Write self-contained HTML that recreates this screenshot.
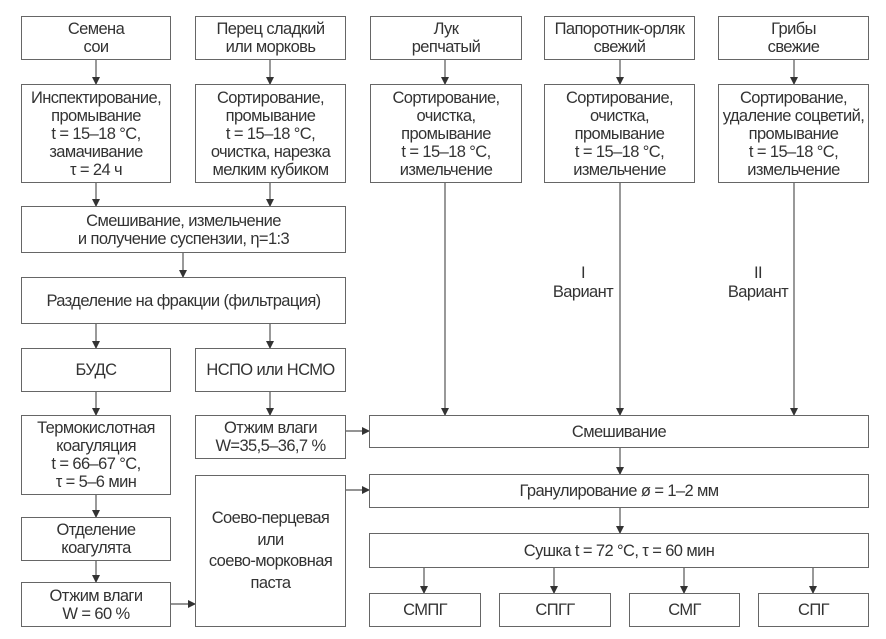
<!DOCTYPE html>
<html><head><meta charset="utf-8"><style>
html,body{margin:0;padding:0;background:#fff;}
body{width:886px;height:639px;position:relative;overflow:hidden;font-family:"Liberation Sans",Arial,sans-serif;color:#333;}
.b{position:absolute;box-sizing:border-box;border:1.3px solid #666;display:flex;align-items:center;justify-content:center;text-align:center;font-size:16.5px;line-height:18px;letter-spacing:-0.6px;background:#fff;white-space:nowrap;}
.t{position:absolute;text-align:center;font-size:16.5px;line-height:19px;letter-spacing:-0.6px;transform:translateX(-50%);}
svg{position:absolute;left:0;top:0;}
</style></head><body>
<svg width="886" height="639">
<defs><marker id="a" markerWidth="8" markerHeight="8" refX="7" refY="4" orient="auto" markerUnits="userSpaceOnUse"><path d="M0,0 L8,4 L0,8 z" fill="#333"/></marker></defs>
<g stroke="#555" stroke-width="1.2" fill="none" marker-end="url(#a)">
<line x1="96" y1="59" x2="96" y2="84"/>
<line x1="270" y1="59" x2="270" y2="84"/>
<line x1="445" y1="59" x2="445" y2="84"/>
<line x1="620" y1="59" x2="620" y2="84"/>
<line x1="794" y1="59" x2="794" y2="84"/>
<line x1="96" y1="182" x2="96" y2="206"/>
<line x1="270" y1="182" x2="270" y2="206"/>
<line x1="183" y1="252" x2="183" y2="277"/>
<line x1="96" y1="323" x2="96" y2="348"/>
<line x1="270" y1="323" x2="270" y2="348"/>
<line x1="96" y1="391" x2="96" y2="415"/>
<line x1="270" y1="391" x2="270" y2="415"/>
<line x1="96" y1="494" x2="96" y2="517"/>
<line x1="96" y1="560" x2="96" y2="582"/>
<line x1="171" y1="604" x2="195" y2="604"/>
<line x1="345" y1="431" x2="369" y2="431"/>
<line x1="345" y1="490" x2="369" y2="490"/>
<line x1="445" y1="182" x2="445" y2="415"/>
<line x1="620" y1="182" x2="620" y2="415"/>
<line x1="794" y1="182" x2="794" y2="415"/>
<line x1="620" y1="447" x2="620" y2="474"/>
<line x1="620" y1="507" x2="620" y2="533"/>
<line x1="424" y1="567" x2="424" y2="593"/>
<line x1="554" y1="567" x2="554" y2="593"/>
<line x1="684" y1="567" x2="684" y2="593"/>
<line x1="813" y1="567" x2="813" y2="593"/>
</g></svg>

<div class="b" style="left:21px;top:16px;width:150px;height:44px;">Семена<br>сои</div>
<div class="b" style="left:195px;top:16px;width:151px;height:44px;">Перец сладкий<br>или морковь</div>
<div class="b" style="left:370px;top:16px;width:152px;height:44px;">Лук<br>репчатый</div>
<div class="b" style="left:544px;top:16px;width:151px;height:44px;">Папоротник-орляк<br>свежий</div>
<div class="b" style="left:718px;top:16px;width:151px;height:44px;">Грибы<br>свежие</div>

<div class="b" style="left:21px;top:84px;width:150px;height:99px;">Инспектирование,<br>промывание<br>t = 15–18 °C,<br>замачивание<br>τ = 24 ч</div>
<div class="b" style="left:195px;top:84px;width:151px;height:99px;">Сортирование,<br>промывание<br>t = 15–18 °C,<br>очистка, нарезка<br>мелким кубиком</div>
<div class="b" style="left:370px;top:84px;width:152px;height:99px;">Сортирование,<br>очистка,<br>промывание<br>t = 15–18 °C,<br>измельчение</div>
<div class="b" style="left:544px;top:84px;width:151px;height:99px;">Сортирование,<br>очистка,<br>промывание<br>t = 15–18 °C,<br>измельчение</div>
<div class="b" style="left:718px;top:84px;width:151px;height:99px;">Сортирование,<br>удаление соцветий,<br>промывание<br>t = 15–18 °C,<br>измельчение</div>

<div class="b" style="left:21px;top:206px;width:325px;height:47px;">Смешивание, измельчение<br>и получение суспензии, η=1:3</div>
<div class="b" style="left:21px;top:277px;width:325px;height:47px;">Разделение на фракции (фильтрация)</div>
<div class="b" style="left:21px;top:348px;width:150px;height:44px;">БУДС</div>
<div class="b" style="left:195px;top:348px;width:151px;height:44px;">НСПО или НСМО</div>
<div class="b" style="left:21px;top:415px;width:150px;height:80px;">Термокислотная<br>коагуляция<br>t = 66–67 °C,<br>τ = 5–6 мин</div>
<div class="b" style="left:195px;top:415px;width:151px;height:44px;">Отжим влаги<br>W=35,5–36,7 %</div>
<div class="b" style="left:21px;top:517px;width:150px;height:44px;">Отделение<br>коагулята</div>
<div class="b" style="left:21px;top:582px;width:150px;height:45px;">Отжим влаги<br>W = 60 %</div>
<div class="b" style="left:195px;top:475px;width:151px;height:152px;line-height:21.5px;">Соево-перцевая<br>или<br>соево-морковная<br>паста</div>

<div class="b" style="left:369px;top:415px;width:500px;height:33px;">Смешивание</div>
<div class="b" style="left:369px;top:474px;width:500px;height:34px;">Гранулирование ø = 1–2 мм</div>
<div class="b" style="left:369px;top:533px;width:500px;height:35px;">Сушка t = 72 °C, τ = 60 мин</div>
<div class="b" style="left:369px;top:593px;width:112px;height:34px;">СМПГ</div>
<div class="b" style="left:499px;top:593px;width:112px;height:34px;">СПГГ</div>
<div class="b" style="left:629px;top:593px;width:111px;height:34px;">СМГ</div>
<div class="b" style="left:758px;top:593px;width:111px;height:34px;">СПГ</div>

<div class="t" style="left:583px;top:264px;">I<br>Вариант</div>
<div class="t" style="left:758px;top:264px;">II<br>Вариант</div>
</body></html>
